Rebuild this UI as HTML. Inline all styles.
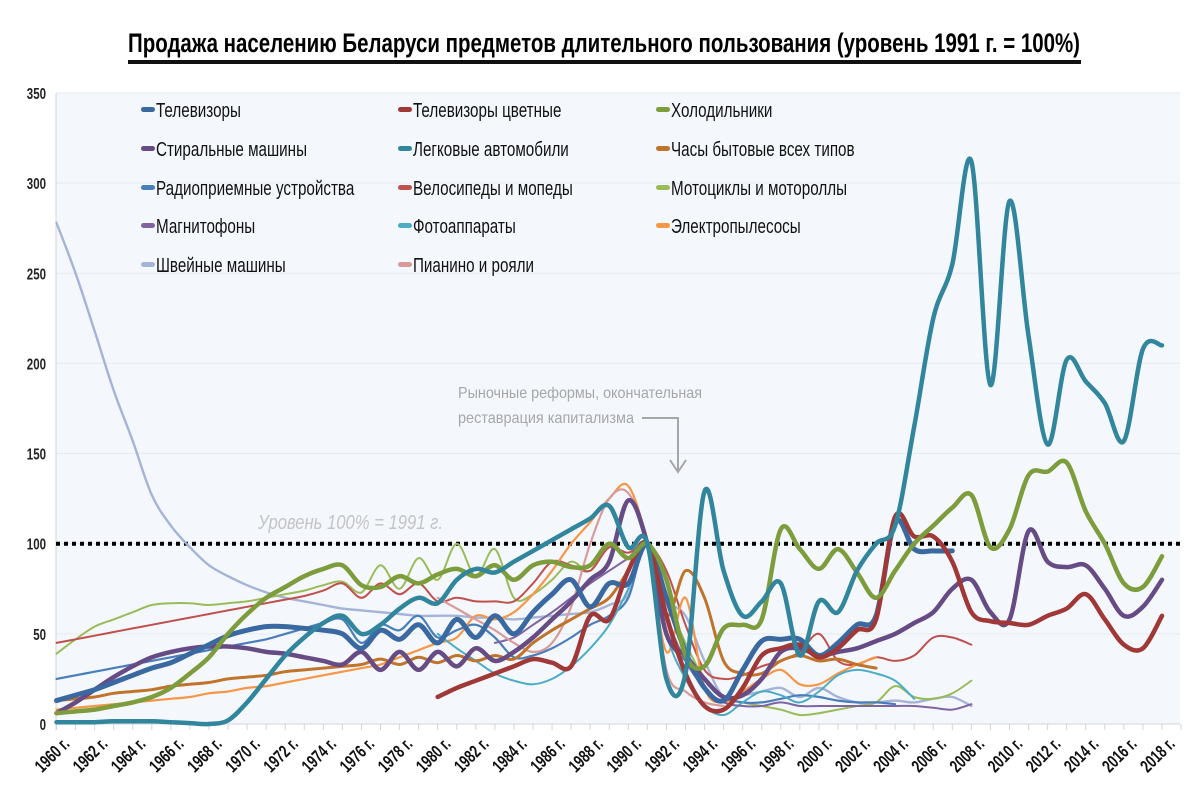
<!DOCTYPE html>
<html><head><meta charset="utf-8"><style>
body{margin:0;background:#fff;width:1200px;height:811px;overflow:hidden}
svg{display:block}
text{font-family:"Liberation Sans Narrow","Liberation Sans",sans-serif}
</style></head><body>
<svg id="c" width="1200" height="811" viewBox="0 0 1200 811">
<text x="604" y="52" text-anchor="middle" font-size="27" font-weight="bold" textLength="952" lengthAdjust="spacingAndGlyphs">Продажа населению Беларуси предметов длительного пользования (уровень 1991 г. = 100%)</text>
<rect x="128" y="60" width="953" height="4" fill="#111"/>
<rect x="56" y="93" width="1124" height="631" fill="#f4f8fc"/>
<g id="grid"></g><g id="axes"></g><g id="series"></g><g id="legend"></g>
<text x="258" y="529" font-size="20" font-style="italic" fill="#c4c4c4" textLength="185" lengthAdjust="spacingAndGlyphs">Уровень 100% = 1991 г.</text>
<text x="458" y="398" font-size="16" fill="#a6a6a6" textLength="244" lengthAdjust="spacingAndGlyphs">Рыночные реформы, окончательная</text>
<text x="458" y="423" font-size="16" fill="#a6a6a6" textLength="176" lengthAdjust="spacingAndGlyphs">реставрация капитализма</text>
<path d="M642 418 H678 V470 M670 460 L678 472 L686 460" fill="none" stroke="#a6a6a6" stroke-width="2"/>
</svg>
<script>
const yTicks=[0,50,100,150,200,250,300,350];
const firstYear=1960, lastYear=2018;
const tvStart=1960;
const tv=[13,16,19,23,27,31,34,39,44,49,52,54,54,53,52,50,42,52,47,55,45,58,48,60,50,62,72,80,65,78,78,100,70,40,20,13,30,46,47,47,38,45,55,60,112,97,96,96];
const ctvStart=1980;
const ctv=[15,20,24,28,32,36,34,32,60,58,85,100,60,28,10,8,20,38,42,44,37,42,52,58,115,104,104,90,62,57,56,55,60,64,72,58,44,42,60];
const fridgeStart=1960;
const fridge=[6,7,8,10,12,15,20,28,37,50,61,70,76,82,86,88,77,76,82,78,83,86,82,88,80,88,90,87,88,100,92,100,80,38,32,53,55,58,108,97,86,97,84,70,85,100,110,120,127,98,108,138,140,145,118,100,78,76,93];
const washStart=1960;
const wash=[6,12,19,26,32,37,40,42,43,43,42,40,39,37,35,33,40,30,40,30,40,32,42,35,40,48,58,68,80,90,124,100,50,38,25,15,16,25,40,42,38,40,42,46,50,56,62,75,80,62,58,107,90,87,88,75,60,65,80];
const carStart=1960;
const car=[1,1,1,1.5,1.5,1.5,1,0.5,0,2,12,25,38,48,56,60,50,55,64,70,67,80,86,84,90,96,102,108,114,121,98,100,25,28,129,85,60,68,78,38,68,62,85,100,110,165,225,255,312,188,290,215,155,202,190,178,157,208,210];
const watchStart=1960;
const watch=[13,14,15,17,18,19,21,22,23,25,26,27,29,30,31,32,33,36,33,37,34,38,35,38,36,45,52,58,64,70,85,100,60,85,70,35,28,28,35,38,35,36,33,31];
const radioStart=1960;
const radio=[25,27,29,31,33,35,37,39,41,43,45,47,50,53,56,58,45,55,52,60,48,52,55,48,37,38,42,48,55,60,70,100,50,35,25,15,12,12,14,16,15,13,12,12,11];
const bikeStart=1960;
const bike=[45,47,49,51,53,55,57,59,61,63,65,67,69,71,74,78,70,78,72,78,68,70,68,68,68,78,90,88,85,98,95,100,85,55,30,25,27,32,35,40,50,35,33,37,35,38,48,48,44];
const motoStart=1960;
const moto=[39,47,54,58,62,66,67,67,66,67,68,70,72,74,77,79,73,88,75,92,80,100,82,97,70,72,80,90,85,100,92,100,70,45,25,15,12,10,8,5,6,8,10,12,21,15,14,17,24];
const tapeStart=1983;
const tape=[45,48,55,62,70,78,85,92,100,60,35,20,12,10,10,12,10,10,10,10,10,10,10,9,8,11];
const photoStart=1980;
const photo=[50,42,35,28,24,22,25,32,42,55,75,100,50,25,10,5,12,18,16,12,18,27,30,28,24,14];
const vacStart=1960;
const vac=[8,9,10,11,12,13,14,15,17,18,20,21,23,25,27,29,31,33,37,41,45,48,60,58,62,72,85,100,112,125,132,100,40,70,20,12,18,25,30,22,22,28,33,37];
const sewStart=1960;
const sew=[278,250,218,185,157,127,110,98,88,82,77,73,70,68,66,64,63,62,61,60,60,60,59,59,58,59,60,61,62,66,72,100,70,60,35,15,16,18,20,15,20,15,12,12,13,12,14,15,10];
const pianoStart=1980;
const piano=[70,64,58,52,45,40,45,65,100,125,128,100,30,18,12,10];
const names=["Телевизоры","Телевизоры цветные","Холодильники","Стиральные машины","Легковые автомобили","Часы бытовые всех типов","Радиоприемные устройства","Велосипеды и мопеды","Мотоциклы и мотороллы","Магнитофоны","Фотоаппараты","Электропылесосы","Швейные машины","Пианино и рояли"];

const NS="http://www.w3.org/2000/svg";
const X0=56.5, DX=19.06, Y0=724, KY=1.803;
function xs(year){return X0+(year-firstYear)*DX;}
function ys(v){return Y0-v*KY;}
function mk(tag,attrs,parent){const e=document.createElementNS(NS,tag);for(const k in attrs)e.setAttribute(k,attrs[k]);parent.appendChild(e);return e;}
function narrow(t,f){const w=t.getComputedTextLength();t.setAttribute('textLength',(w*f).toFixed(1));t.setAttribute('lengthAdjust','spacingAndGlyphs');}
const grid=document.getElementById('grid'),axes=document.getElementById('axes'),ser=document.getElementById('series'),leg=document.getElementById('legend');
yTicks.forEach(t=>{
  const l=mk('line',{x1:56,x2:1180,y1:ys(t),y2:ys(t),stroke:'#e6ebf0','stroke-width':1},grid);
  
  
  const tx=mk('text',{x:46,y:ys(t)+6,'text-anchor':'end','font-size':16,'font-weight':'bold',fill:'#222'},axes);
  tx.textContent=t;
  
  
  narrow(tx,0.72);
});
mk('line',{x1:56,x2:56,y1:93,y2:730,stroke:'#d0d4d8'},axes);
mk('line',{x1:56,x2:1180,y1:724,y2:724,stroke:'#d0d4d8'},axes);
for(let yr=firstYear;yr<=lastYear+1;yr++){
  mk('line',{x1:xs(yr),x2:xs(yr),y1:724,y2:730,stroke:'#d0d4d8'},axes);
}
for(let yr=firstYear;yr<=lastYear;yr+=2){
  const x=xs(yr)+14,y=745;
  const tx=mk('text',{x:x,y:y,'text-anchor':'end','font-size':18,'font-weight':'bold',fill:'#111',transform:'rotate(-45 '+x+' '+y+')'},axes);
  tx.textContent=yr+' г.';
  
  
  narrow(tx,0.72);
}
const bl=mk('line',{x1:56,x2:1180,y1:ys(100),y2:ys(100),stroke:'#000','stroke-width':4,'stroke-dasharray':'4 4'},ser);


function smooth(pts){
  let d='M'+pts[0][0]+' '+pts[0][1];
  for(let i=0;i<pts.length-1;i++){
    const p0=pts[Math.max(0,i-1)],p1=pts[i],p2=pts[i+1],p3=pts[Math.min(pts.length-1,i+2)];
    const c1=[p1[0]+(p2[0]-p0[0])/6,p1[1]+(p2[1]-p0[1])/6],c2=[p2[0]-(p3[0]-p1[0])/6,p2[1]-(p3[1]-p1[1])/6];
    d+=' C'+c1[0].toFixed(1)+' '+c1[1].toFixed(1)+' '+c2[0].toFixed(1)+' '+c2[1].toFixed(1)+' '+p2[0].toFixed(1)+' '+p2[1].toFixed(1);
  }
  return d;
}
const S=[
 [sew,sewStart,'#a5b4d6',2.4,'sewing-machines-line'],
 [moto,motoStart,'#9bbb59',2,'motorcycles-line'],
 [bike,bikeStart,'#c0504d',2,'bicycles-line'],
 [radio,radioStart,'#4a7ebb',2.2,'radios-line'],
 [vac,vacStart,'#f79646',2.2,'vacuums-line'],
 [photo,photoStart,'#4bacc6',2,'cameras-line'],
 [tape,tapeStart,'#8064a2',2,'tape-recorders-line'],
 [piano,pianoStart,'#d99a9a',2.2,'pianos-line'],
 [watch,watchStart,'#c0732a',3,'watches-line'],
 [wash,washStart,'#664b85',4.5,'washing-machines-line'],
 [tv,tvStart,'#3a68a0',5,'tv-line'],
 [ctv,ctvStart,'#a03838',4.5,'color-tv-line'],
 [fridge,fridgeStart,'#7d9c3c',4.5,'fridges-line'],
 [car,carStart,'#31859c',4.5,'cars-line']
];
S.forEach(s=>{
  const pts=s[0].map((v,i)=>[xs(s[1]+i),ys(v)]);
  const p=mk('path',{d:smooth(pts),fill:'none',stroke:s[2],'stroke-width':s[3],'stroke-linecap':'round','stroke-linejoin':'round'},ser);
  
  
});
const legColors=['#3a68a0','#a03838','#7d9c3c','#664b85','#31859c','#c0732a','#4a7ebb','#c0504d','#9bbb59','#8064a2','#4bacc6','#f79646','#a5b4d6','#d99a9a'];
const colX=[141,398,656],rowY=[110,149,188,226,265];
names.forEach((n,i)=>{
  const x=colX[i%3],y=rowY[Math.floor(i/3)];
  const g=mk('g',{},leg);
  
  
  mk('rect',{x:x,y:y-3,width:14,height:5,rx:2.5,fill:legColors[i]},g);
  const t=mk('text',{x:x+15,y:y+7,'font-size':20,fill:'#111'},g);
  t.textContent=n;
  narrow(t,0.76);
});
</script>
</body></html>
